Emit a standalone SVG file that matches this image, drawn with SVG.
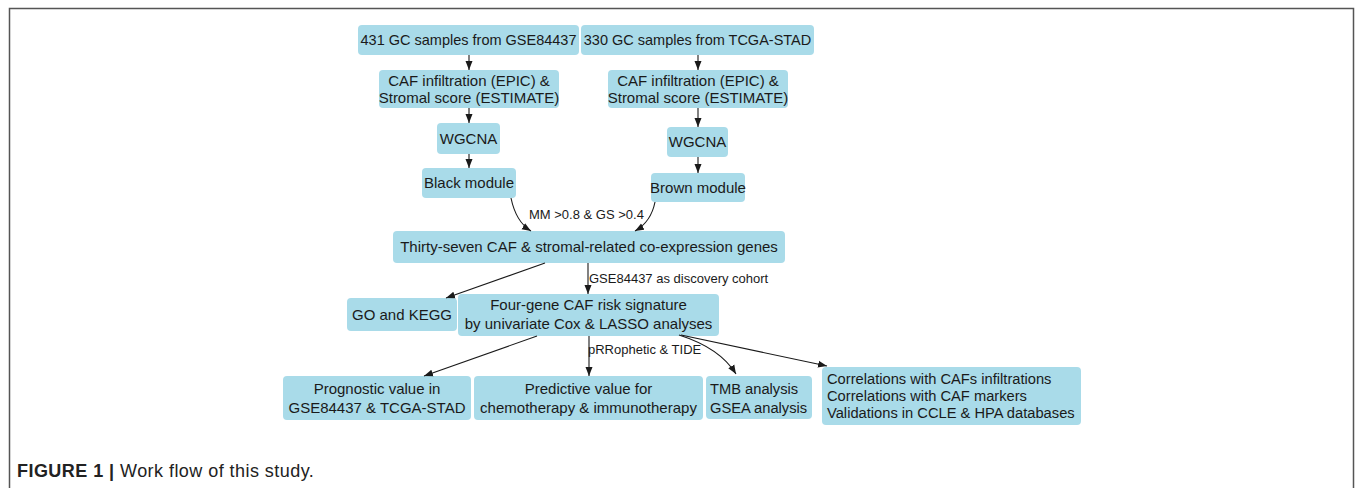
<svg xmlns="http://www.w3.org/2000/svg" width="1355" height="488" viewBox="0 0 1355 488">
<defs>
<style>
.box{fill:#a9dbe9;}
.t{font-family:"Liberation Sans",Arial,sans-serif;font-size:15px;fill:#1a1a1a;text-anchor:middle;}
.ts{font-size:14.5px;}
.tl{font-family:"Liberation Sans",Arial,sans-serif;font-size:14.7px;fill:#1a1a1a;}
.lab{font-family:"Liberation Sans",Arial,sans-serif;font-size:13px;fill:#1a1a1a;}
.c{fill:none;stroke:#1a1a1a;stroke-width:1.1;marker-end:url(#ah);}
</style>
<marker id="ah" markerUnits="userSpaceOnUse" markerWidth="10" markerHeight="8" refX="9" refY="4" orient="auto">
<path d="M0,0.5 L9,4 L0,7.5 Z" fill="#1a1a1a"/>
</marker>
</defs>
<rect width="1355" height="488" fill="#fff"/>
<path d="M9.5,488 V8.5 H1353.5 V488" fill="none" stroke="#555" stroke-width="1.5"/>

<g id="n1"><rect class="box" x="358" y="25" width="221" height="30" rx="4"/><text class="t ts" x="468.5" y="45">431 GC samples from GSE84437</text></g>
<g id="n2"><rect class="box" x="581" y="25" width="233" height="30" rx="4"/><text class="t ts" x="697.5" y="45">330 GC samples from TCGA-STAD</text></g>
<g id="n3"><rect class="box" x="379" y="70" width="180" height="38" rx="4"/><text class="t" x="469" y="86">CAF infiltration (EPIC) &amp;</text><text class="t" x="469" y="103">Stromal score (ESTIMATE)</text></g>
<g id="n4"><rect class="box" x="608" y="70" width="180" height="38" rx="4"/><text class="t" x="698" y="86">CAF infiltration (EPIC) &amp;</text><text class="t" x="698" y="103">Stromal score (ESTIMATE)</text></g>
<g id="n5"><rect class="box" x="437" y="123" width="63" height="31" rx="4"/><text class="t" x="468.5" y="143.5">WGCNA</text></g>
<g id="n6"><rect class="box" x="667" y="127" width="61" height="30" rx="4"/><text class="t" x="697.5" y="147">WGCNA</text></g>
<g id="n7"><rect class="box" x="422" y="168" width="94" height="30" rx="4"/><text class="t" x="469" y="188">Black module</text></g>
<g id="n8"><rect class="box" x="651" y="173" width="94" height="29" rx="4"/><text class="t" x="698" y="192.5">Brown module</text></g>
<g id="n9"><rect class="box" x="393" y="231" width="392" height="32" rx="4"/><text class="t" x="589" y="252">Thirty-seven CAF &amp; stromal-related co-expression genes</text></g>
<g id="n10"><rect class="box" x="347" y="298" width="110" height="33" rx="4"/><text class="t" x="402" y="319.5">GO and KEGG</text></g>
<g id="n11"><rect class="box" x="458" y="294" width="261" height="42" rx="4"/><text class="t" x="588.5" y="310">Four-gene CAF risk signature</text><text class="t" x="588.5" y="329">by univariate Cox &amp; LASSO analyses</text></g>
<g id="n12"><rect class="box" x="283" y="376" width="188" height="44" rx="4"/><text class="t" x="377" y="394">Prognostic value in</text><text class="t" x="377" y="413">GSE84437 &amp; TCGA-STAD</text></g>
<g id="n13"><rect class="box" x="474" y="376" width="229" height="44" rx="4"/><text class="t" x="588.5" y="394">Predictive value for</text><text class="t" x="588.5" y="413">chemotherapy &amp; immunotherapy</text></g>
<g id="n14"><rect class="box" x="706" y="376" width="106" height="43" rx="4"/><text class="tl" x="710" y="394">TMB analysis</text><text class="tl" x="710" y="413">GSEA analysis</text></g>
<g id="n15"><rect class="box" x="822" y="367" width="259" height="58" rx="4"/><text class="tl" x="827" y="384">Correlations with CAFs infiltrations</text><text class="tl" x="827" y="401">Correlations with CAF markers</text><text class="tl" x="827" y="418">Validations in CCLE &amp; HPA databases</text></g>

<g id="connectors">
<path class="c" d="M469,55 V70"/>
<path class="c" d="M698,55 V70"/>
<path class="c" d="M469,108 V123"/>
<path class="c" d="M698,108 V127"/>
<path class="c" d="M469,154 V168"/>
<path class="c" d="M698,157 V173"/>
<path class="c" d="M511,198 Q516,222 531,231"/>
<path class="c" d="M655,202 Q651,222 635,231"/>
<path class="c" d="M545,263 L446,298"/>
<path class="c" d="M588,263 V294"/>
<path class="c" d="M537,336 L424,376"/>
<path class="c" d="M589,336 V376"/>
<path class="c" d="M679,335 Q720,348 736,374"/>
<path class="c" d="M681,335 L827,366"/>
<text class="lab" x="529" y="219">MM &gt;0.8 &amp; GS &gt;0.4</text>
<text class="lab" x="589" y="283">GSE84437 as discovery cohort</text>
<text class="lab" x="588" y="354">pRRophetic &amp; TIDE</text>
</g>

<text x="17" y="477" font-family="'Liberation Sans',Arial,sans-serif" font-size="18" letter-spacing="0.45" fill="#222"><tspan font-weight="bold">FIGURE 1 |</tspan> Work flow of this study.</text>
</svg>
